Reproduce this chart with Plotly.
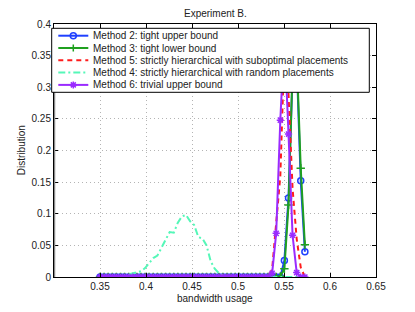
import plotly.graph_objects as go

# ---------------- data ----------------
bandwidth = [0.3500, 0.3545, 0.3589, 0.3634, 0.3678, 0.3723, 0.3767, 0.3812, 0.3856, 0.3901,
             0.3945, 0.3990, 0.4034, 0.4079, 0.4124, 0.4168, 0.4213, 0.4257, 0.4302, 0.4346,
             0.4391, 0.4435, 0.4480, 0.4524, 0.4569, 0.4614, 0.4658, 0.4703, 0.4747, 0.4792,
             0.4836, 0.4881, 0.4925, 0.4970, 0.5014, 0.5059, 0.5103, 0.5148, 0.5193, 0.5237,
             0.5282, 0.5326, 0.5371, 0.5415, 0.5460, 0.5504, 0.5549, 0.5593, 0.5638, 0.5682,
             0.5727]

method2 = [0, 0, 0, 0, 0, 0, 0, 0, 0, 0,
           0, 0, 0, 0, 0, 0, 0, 0, 0, 0,
           0, 0, 0, 0, 0, 0, 0, 0, 0, 0,
           0, 0, 0, 0, 0, 0, 0, 0, 0, 0,
           0, 0, 0, 0, 0, 0.026, 0.125, 0.32, 0.34, 0.152,
           0.040]

method3 = [0, 0, 0, 0, 0, 0, 0, 0, 0, 0,
           0, 0, 0, 0, 0, 0, 0, 0, 0, 0,
           0, 0, 0, 0, 0, 0, 0, 0, 0, 0,
           0, 0, 0, 0, 0, 0, 0, 0, 0, 0,
           0, 0, 0, 0, 0.001, 0.013, 0.114, 0.33, 0.35, 0.172,
           0.051]

method5 = [0, 0, 0, 0, 0, 0, 0, 0, 0, 0,
           0, 0, 0, 0, 0, 0, 0, 0, 0, 0,
           0, 0, 0, 0, 0, 0, 0, 0, 0, 0,
           0, 0, 0, 0, 0, 0, 0, 0, 0, 0,
           0, 0, 0.012, 0.09, 0.16, 0.36, 0.29, 0.14, 0.06, 0.015,
           0]

method4 = [0, 0, 0, 0, 0, 0, 0, 0.004, 0.006, 0.007,
           0.009, 0.014, 0.022, 0.030, 0.034, 0.047, 0.059, 0.071, 0.070, 0.086,
           0.096, 0.098, 0.088, 0.082, 0.063, 0.061, 0.050, 0.025, 0.013, 0.006,
           0.002, 0, 0, 0, 0, 0, 0, 0, 0, 0,
           0, 0, 0, 0, 0, 0, 0, 0, 0, 0,
           0]

method6 = [0, 0, 0, 0, 0, 0, 0, 0, 0, 0,
           0, 0, 0, 0, 0, 0, 0, 0, 0, 0,
           0, 0, 0, 0, 0, 0, 0, 0, 0, 0,
           0, 0, 0, 0, 0, 0, 0, 0, 0, 0,
           0, 0, 0.006, 0.069, 0.248, 0.38, 0.226, 0.066, 0.007, 0,
           0]

series_names = ["Method 2: tight upper bound",
                "Method 3: tight lower bound",
                "Method 5: strictly hierarchical with suboptimal placements",
                "Method 4: strictly hierarchical with random placements",
                "Method 6: trivial upper bound"]

x_ticks = [0.35, 0.4, 0.45, 0.5, 0.55, 0.6, 0.65]
x_tick_labels = ["0.35", "0.4", "0.45", "0.5", "0.55", "0.6", "0.65"]
y_ticks = [0, 0.05, 0.1, 0.15, 0.2, 0.25, 0.3, 0.35, 0.4]
y_tick_labels = ["0", "0.05", "0.1", "0.15", "0.2", "0.25", "0.3", "0.35", "0.4"]

# ---------------- styles ----------------
BLUE = "#1f40ff"
GREEN = "#1fa01f"
RED = "#ff1c1c"
CYAN = "#55f7b8"
PURPLE = "#9a2bff"
FONT = "Liberation Sans"
TXT = "#222222"

styles = [
    dict(color=BLUE, dash="solid", symbol="circle-open"),
    dict(color=GREEN, dash="solid", symbol="cross-thin-open"),
    dict(color=RED, dash="5px,4px", symbol=None),
    dict(color=CYAN, dash="7px,3px,2px,3px", symbol=None),
    dict(color=PURPLE, dash="solid", symbol="asterisk-open"),
]
values = [method2, method3, method5, method4, method6]

W, H = 415, 312
L, R, T, B = 54, 39, 24, 35
PW, PH = W - L - R, H - T - B


def px(xp):
    return (xp - L) / PW


def py(yp):
    return 1 - (yp - T) / PH


fig = go.Figure()
for name, vals, st in zip(series_names, values, styles):
    mode = "lines+markers" if st["symbol"] else "lines"
    kw = dict(x=bandwidth, y=vals, mode=mode, name=name, showlegend=False,
              line=dict(color=st["color"], width=2, dash=st["dash"]), cliponaxis=True)
    if st["symbol"]:
        kw["marker"] = dict(symbol=st["symbol"], size=6, color=st["color"],
                            line=dict(color=st["color"], width=1.5))
    fig.add_trace(go.Scatter(**kw))

shapes = []
annotations = []

# grey left spine as in the reference
shapes.append(dict(type="line", xref="x", yref="y", x0=0.3, x1=0.3, y0=0, y1=0.3,
                   line=dict(color="#8a8a8a", width=2.5), layer="above"))

# ---------------- manual legend ----------------
lg_left, lg_right, lg_top, lg_bot = 51.7, 369.3, 28.3, 92.3
shapes.append(dict(type="rect", xref="paper", yref="paper",
                   x0=px(lg_left), x1=px(lg_right), y0=py(lg_bot), y1=py(lg_top),
                   fillcolor="white", line=dict(color="black", width=1), layer="above"))
row_y = [35.7, 48.0, 60.3, 72.6, 84.9]
sx0, sx1, sxc, tx = 58.3, 88.3, 73.3, 91.0
for name, st, ry in zip(series_names, styles, row_y):
    shapes.append(dict(type="line", xref="paper", yref="paper",
                       x0=px(sx0), x1=px(sx1), y0=py(ry), y1=py(ry),
                       line=dict(color=st["color"], width=2, dash=st["dash"]), layer="above"))
    anchor = dict(xref="paper", yref="paper", xsizemode="pixel", ysizemode="pixel",
                  xanchor=px(sxc), yanchor=py(ry), layer="above")
    if st["symbol"] == "circle-open":
        shapes.append(dict(type="circle", x0=-3, x1=3, y0=-3, y1=3,
                           line=dict(color=st["color"], width=1.5), **anchor))
    elif st["symbol"] == "cross-thin-open":
        shapes.append(dict(type="path", path="M-3.5,0L3.5,0M0,-3.5L0,3.5",
                           line=dict(color=st["color"], width=1.5), **anchor))
    elif st["symbol"] == "asterisk-open":
        shapes.append(dict(type="path",
                           path="M-3.5,0L3.5,0M0,-3.5L0,3.5M-2.5,-2.5L2.5,2.5M-2.5,2.5L2.5,-2.5",
                           line=dict(color=st["color"], width=1.5), **anchor))
    annotations.append(dict(text=name, xref="paper", yref="paper", x=px(tx), y=py(ry),
                            xanchor="left", yanchor="middle", showarrow=False,
                            font=dict(family=FONT, size=10, color=TXT)))

# titles
annotations.append(dict(text="Experiment B.", xref="paper", yref="paper", x=0.5, y=py(13),
                        xanchor="center", yanchor="middle", showarrow=False,
                        font=dict(family=FONT, size=10, color=TXT)))
annotations.append(dict(text="bandwidth usage", xref="paper", yref="paper", x=0.5, y=py(298),
                        xanchor="center", yanchor="middle", showarrow=False,
                        font=dict(family=FONT, size=10, color=TXT)))
annotations.append(dict(text="Distribution", xref="paper", yref="paper", x=px(21.7), y=0.5,
                        xanchor="center", yanchor="middle", showarrow=False, textangle=-90,
                        font=dict(family=FONT, size=10, color=TXT)))

axis_common = dict(showline=True, linecolor="black", linewidth=1, mirror="ticks",
                   ticks="inside", ticklen=4, tickcolor="black", showgrid=True,
                   gridcolor="#b4b4b4", griddash="1px,3px", gridwidth=1, zeroline=False,
                   tickfont=dict(family=FONT, size=10, color=TXT))

fig.update_layout(
    width=W, height=H,
    margin=dict(l=L, r=R, t=T, b=B, pad=0),
    paper_bgcolor="white", plot_bgcolor="white",
    font=dict(family=FONT, size=10, color=TXT),
    xaxis=dict(range=[0.3, 0.65], tickvals=x_ticks, ticktext=x_tick_labels, **axis_common),
    yaxis=dict(range=[0, 0.4], tickvals=y_ticks, ticktext=y_tick_labels, **axis_common),
    shapes=shapes, annotations=annotations,
    showlegend=False,
)

fig.write_html("out.html", config={"displayModeBar": False},
               post_script="document.body.style.margin='0px';")
